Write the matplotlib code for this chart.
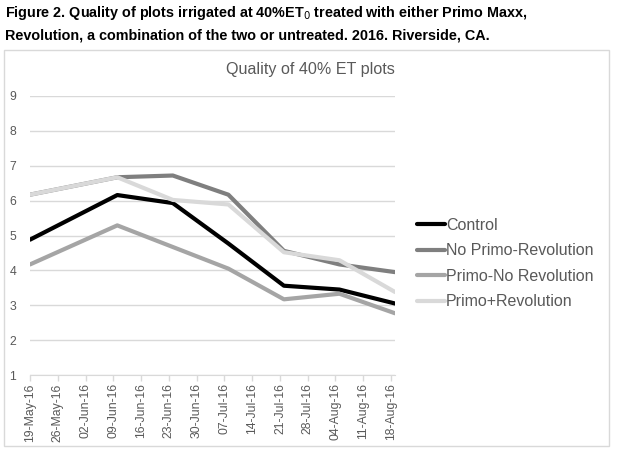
import numpy as np
import matplotlib.pyplot as plt
import matplotlib.dates as mdates
from matplotlib.patches import Rectangle

plt.rcParams['font.family'] = ['Liberation Sans', 'DejaVu Sans']

dates = np.array(['2016-05-19', '2016-06-10', '2016-06-24', '2016-07-08',
                  '2016-07-22', '2016-08-05', '2016-08-19'], dtype='datetime64[D]')
control = [4.88, 6.16, 5.93, 4.77, 3.56, 3.45, 3.05]
no_primo_rev = [6.17, 6.67, 6.72, 6.17, 4.56, 4.17, 3.95]
primo_no_rev = [4.17, 5.29, 4.67, 4.05, 3.17, 3.33, 2.77]
primo_rev = [6.17, 6.67, 6.02, 5.89, 4.52, 4.29, 3.38]

series = [
    ('Control', control, '#000000'),
    ('No Primo-Revolution', no_primo_rev, '#7f7f7f'),
    ('Primo-No Revolution', primo_no_rev, '#a5a5a5'),
    ('Primo+Revolution', primo_rev, '#d9d9d9'),
]

tick_dates = np.arange(np.datetime64('2016-05-19'), np.datetime64('2016-08-19'),
                       np.timedelta64(7, 'D'))

fig = plt.figure(figsize=(6.17, 4.54), dpi=100)
W, H = 617, 454

# chart frame
fig.patches.append(Rectangle((4 / W, 1 - 446 / H), (609 - 4) / W, (446 - 50) / H,
                             transform=fig.transFigure, fill=False,
                             edgecolor='#d9d9d9', linewidth=1))

fig.text(5 / W, 1 - 13 / H,
         'Figure 2. Quality of plots irrigated at 40%ET$_0$ treated with either Primo Maxx,',
         fontsize=10.4, fontweight='bold', va='center', ha='left')
fig.text(5 / W, 1 - 36 / H,
         'Revolution, a combination of the two or untreated. 2016. Riverside, CA.',
         fontsize=10.4, fontweight='bold', va='center', ha='left')

ax = fig.add_axes([30 / W, 1 - 375 / H, (395 - 30) / W, (375 - 96) / H])

for name, vals, col in series:
    ax.plot(dates, vals, color=col, linewidth=3, label=name, solid_capstyle='round')

ax.set_ylim(1, 9)
ax.set_yticks(range(1, 10))
ax.set_xlim(dates[0], dates[-1])
ax.set_xticks(tick_dates)
ax.xaxis.set_major_formatter(mdates.DateFormatter('%d-%b-%y'))
ax.tick_params(axis='x', rotation=90, labelsize=8.8, colors='#595959',
               length=4, width=1, color='#d9d9d9', pad=2)
ax.tick_params(axis='y', labelsize=8.8, colors='#595959', length=0, pad=10)
ax.grid(axis='y', color='#d9d9d9', linewidth=1)
ax.set_axisbelow(True)
for s in ['top', 'right', 'left']:
    ax.spines[s].set_visible(False)
ax.spines['bottom'].set_color('#d9d9d9')

ax.set_title('Quality of 40% ET plots', fontsize=11.6, color='#595959',
             loc='right', pad=16)

leg = ax.legend(loc='center left', bbox_to_anchor=(1.02, 0.40), frameon=False,
                fontsize=11.5, handlelength=1.75, handletextpad=0.1,
                labelspacing=0.66, labelcolor='#595959')

fig.savefig('out.png', dpi=100)
